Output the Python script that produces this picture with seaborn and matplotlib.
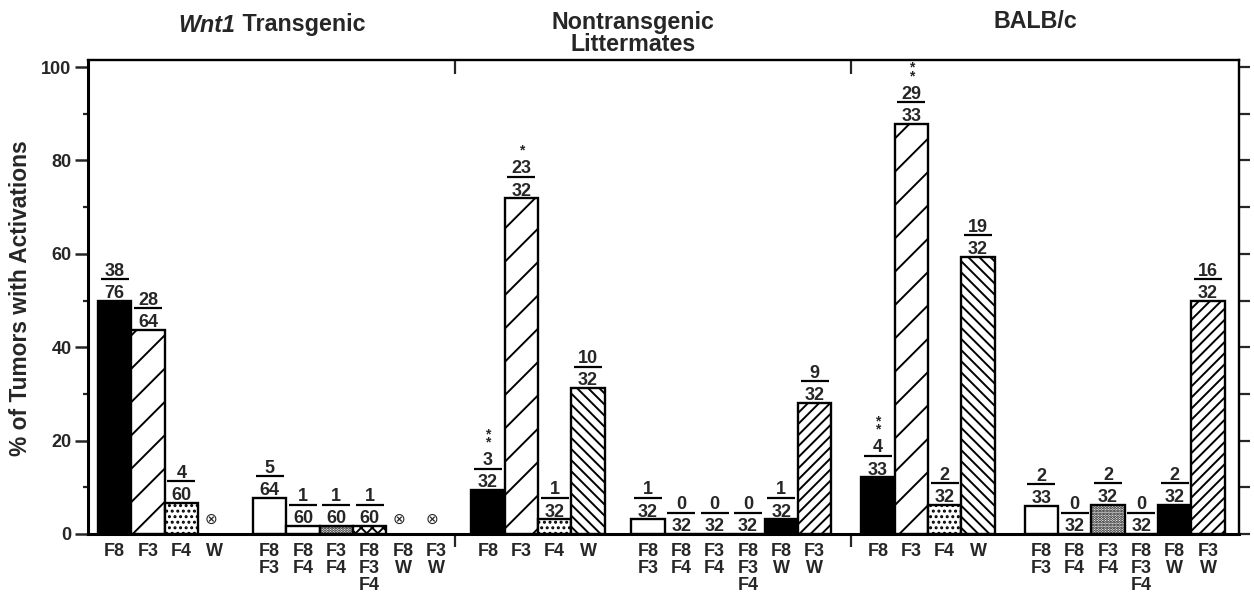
import numpy as np
import pandas as pd
import matplotlib
matplotlib.use("Agg")
import matplotlib.pyplot as plt
from matplotlib import transforms
import seaborn as sns

# ---------------- data ----------------
panel_titles = ["Wnt1 Transgenic", "Nontransgenic\nLittermates", "BALB/c"]
categories = ["F8", "F3", "F4", "W", "F8\nF3", "F8\nF4", "F3\nF4", "F8\nF3\nF4", "F8\nW", "F3\nW"]

wnt1_pos = [38, 28, 4, None, 5, 1, 1, 1, None, None]
wnt1_total = [76, 64, 60, None, 64, 60, 60, 60, None, None]
wnt1_stars = ["", "", "", "", "", "", "", "", "", ""]

litter_pos = [3, 23, 1, 10, 1, 0, 0, 0, 1, 9]
litter_total = [32, 32, 32, 32, 32, 32, 32, 32, 32, 32]
litter_stars = ["**", "*", "", "", "", "", "", "", "", ""]

balb_pos = [4, 29, 2, 19, 2, 0, 2, 0, 2, 16]
balb_total = [33, 33, 32, 32, 33, 32, 32, 32, 32, 32]
balb_stars = ["**", "**", "", "", "", "", "", "", "", ""]

yticks_major = [0, 20, 40, 60, 80, 100]

# ---------------- layout / style ----------------
PANEL_START = [0.0, 11.2, 22.9]
GROUP2_OFFSET = [4.65, 4.8, 4.9]
SEPARATORS = [10.72, 22.58]
XLIM = (-0.30, 34.23)
YLIM = (0, 101.5)

STYLE = {
    "F8": dict(fc="black", hatch=None),
    "F3": dict(fc="white", hatch="//"),
    "F4": dict(fc="white", hatch="......"),
    "W": dict(fc="white", hatch="\\" * 6),
    "F8\nF3": dict(fc="white", hatch=None),
    "F8\nF4": dict(fc="white", hatch=None),
    "F3\nF4": dict(fc="white", hatch="." * 12),
    "F8\nF3\nF4": dict(fc="white", hatch="xxxxxx"),
    "F8\nW": dict(fc="black", hatch=None),
    "F3\nW": dict(fc="white", hatch="//////"),
}

FS = 6.5

sns.set_theme(style="white")
plt.rcParams["font.family"] = ["Liberation Sans", "DejaVu Sans"]
plt.rcParams["font.weight"] = "bold"
plt.rcParams["hatch.linewidth"] = 0.7
plt.rcParams["hatch.color"] = "black"

rows = []
for p, (nums, tots, stars) in enumerate([(wnt1_pos, wnt1_total, wnt1_stars),
                                         (litter_pos, litter_total, litter_stars),
                                         (balb_pos, balb_total, balb_stars)]):
    for i, cat in enumerate(categories):
        slot = i if i < 4 else GROUP2_OFFSET[p] + (i - 4)
        x = PANEL_START[p] + slot + 0.5
        n, t = nums[i], tots[i]
        pct = np.nan if n is None else 100.0 * n / t
        rows.append(dict(panel=p, category=cat, x=x, num=n, den=t, pct=pct, stars=stars[i]))
df = pd.DataFrame(rows)
bars = df.dropna(subset=["pct"]).reset_index(drop=True)

fig = plt.figure(figsize=(6.27, 2.965), dpi=200)
ax = fig.add_axes([88 / 1254, 1 - 534 / 593, (1239 - 88) / 1254, (534 - 60) / 593])

sns.barplot(data=bars, x="x", y="pct", native_scale=True, width=1.0, errorbar=None,
            color="white", ax=ax)

for patch in ax.patches:
    cx = patch.get_x() + patch.get_width() / 2
    idx = (bars["x"] - cx).abs().idxmin()
    st = STYLE[bars.loc[idx, "category"]]
    patch.set_facecolor(st["fc"])
    patch.set_edgecolor("black")
    patch.set_linewidth(0.85)
    if st["hatch"]:
        patch.set_hatch(st["hatch"])

ax.set_xlim(*XLIM)
ax.set_ylim(*YLIM)
ax.set_xlabel("")
ax.set_ylabel("")

def off(pts):
    return transforms.offset_copy(ax.transData, fig=fig, x=0, y=pts, units="points")

for _, r in df.iterrows():
    x = r["x"]
    if pd.isna(r["pct"]):
        ax.text(x - 0.12, 0, "\u2297", transform=off(5.4), ha="center", va="center",
                fontsize=5.5, family="DejaVu Sans", fontweight="normal")
        continue
    top = r["pct"]
    ax.text(x, top, str(int(r["den"])), transform=off(1.0), ha="center", va="baseline",
            fontsize=FS, fontweight="bold")
    ax.plot([x - 0.42, x + 0.42], [top, top], transform=off(7.7), color="black",
            lw=0.8, solid_capstyle="butt")
    ax.text(x, top, str(int(r["num"])), transform=off(9.0), ha="center", va="baseline",
            fontsize=FS, fontweight="bold")
    s = r["stars"]
    if s:
        star_txt = "\n".join(["*"] * len(s))
        ax.text(x, top, star_txt, transform=off(14.6), ha="center", va="bottom",
                fontsize=5, linespacing=0.5)

# x ticks: separators as major, category labels as minor
ax.set_xticks(SEPARATORS)
ax.set_xticklabels([])
ax.set_xticks(df["x"].tolist(), minor=True)
ax.set_xticklabels(df["category"].tolist(), minor=True, fontsize=FS, fontweight="bold",
                   linespacing=0.98)
ax.tick_params(axis="x", which="major", bottom=True, direction="out", length=4.7, width=0.8)
ax.tick_params(axis="x", which="minor", bottom=True, length=0, pad=3.3)

# y ticks
ax.set_yticks(yticks_major)
ax.set_yticklabels([str(v) for v in yticks_major], fontsize=FS, fontweight="bold")
ax.set_yticks([10, 30, 50, 70, 90], minor=True)
ax.tick_params(axis="y", which="major", left=True, direction="out", length=4.7, width=0.9, pad=1.2)
ax.tick_params(axis="y", which="minor", left=True, direction="out", length=1.8, width=0.8)

for side, lw in [("left", 1.1), ("bottom", 1.1), ("top", 0.8), ("right", 0.8)]:
    ax.spines[side].set_visible(True)
    ax.spines[side].set_linewidth(lw)
    ax.spines[side].set_color("black")

secx = ax.secondary_xaxis("top")
secx.set_xticks(SEPARATORS)
secx.set_xticklabels([])
secx.tick_params(direction="in", length=5, width=0.8)
secx.spines["top"].set_linewidth(0.8)

secy = ax.secondary_yaxis("right")
secy.set_yticks(list(range(0, 101, 10)))
secy.set_yticklabels([])
secy.tick_params(direction="out", length=3.8, width=0.8)
secy.spines["right"].set_linewidth(0.8)

# titles
fig.text(235.5 / 1254, 1 - 31.5 / 593, "Wnt1", style="italic", fontweight="bold",
         ha="right", va="baseline", fontsize=8.4)
fig.text(236.5 / 1254, 1 - 31.5 / 593, " Transgenic", fontweight="bold",
         ha="left", va="baseline", fontsize=8.4)
fig.text(633 / 1254, 1 - 33.5 / 593, panel_titles[1], fontweight="bold", ha="center",
         va="center", fontsize=8.4, linespacing=0.95)
fig.text(1035 / 1254, 1 - 28 / 593, panel_titles[2], fontweight="bold", ha="center",
         va="baseline", fontsize=8.4)

fig.text(21 / 1254, 1 - 298 / 593, "% of Tumors with Activations", rotation=90,
         ha="center", va="center", fontsize=8.2, fontweight="bold")

fig.savefig("out.png", dpi=200)
